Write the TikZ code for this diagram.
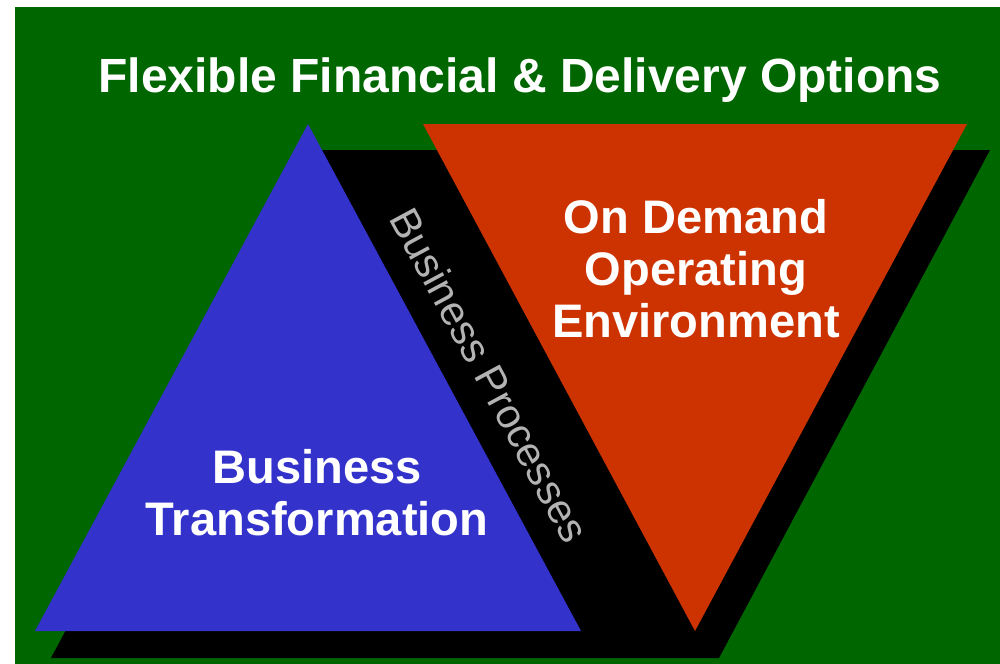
\documentclass[tikz,border=0pt]{standalone}
\usepackage{fontspec}
\setmainfont{Liberation Sans}
\usepackage{xcolor}
\usepackage{tikz}
\definecolor{bggreen}{HTML}{006600}
\definecolor{triblue}{HTML}{3333CC}
\definecolor{trired}{HTML}{CC3300}
\definecolor{bandgrey}{HTML}{B3B3B3}
\tikzstyle{heading} = [text=white, inner sep=0pt, font=\bfseries\fontsize{36}{39}\selectfont]
\tikzstyle{tritext} = [text=white, inner sep=0pt, align=center, font=\bfseries\fontsize{35.3}{39}\selectfont]
\tikzstyle{bandtext} = [text=bandgrey, inner sep=0pt, font=\fontsize{31}{36}\selectfont]

\begin{document}
\begin{tikzpicture}[x=0.75pt, y=-0.75pt]
		
		% Canvas
		\fill [white] (0,0) rectangle (1000,664);
		\useasboundingbox (0,0) rectangle (1000,664);
		\fill [bggreen] (15,7) rectangle (1000,664);
		
		% Corners of the shapes
		\coordinate (shadowbl) at (51,658);
		\coordinate (shadowbr) at (719,658);
		\coordinate (shadowtr) at (990,150);
		\coordinate (shadowtl) at (322,150);
		\coordinate (blueapex) at (308,124);
		\coordinate (bluel) at (35,631);
		\coordinate (bluer) at (581,631);
		\coordinate (redl) at (423,124);
		\coordinate (redr) at (967,124);
		\coordinate (redtip) at (695,631);
		
		% Shadow band
		\fill [black] (shadowbl) -- (shadowbr) -- (shadowtr) -- (shadowtl) -- cycle;
		
		% Triangles
		\fill [triblue] (bluel) -- (bluer) -- (blueapex) -- cycle;
		\fill [trired] (redl) -- (redr) -- (redtip) -- cycle;
		
		% Texts
		\node (title) [heading, anchor=base] at (520,92) {Flexible Financial \& Delivery Options};
		\node (ondemand) [tritext] at (696,268.5) {On Demand\\Operating\\Environment};
		\node (transform) [tritext] at (317,492.5) {Business\\Transformation};
		\node (processes) [bandtext, rotate=-61.7] at (490,375) {Business Processes};
		
	\end{tikzpicture}
\end{document}
